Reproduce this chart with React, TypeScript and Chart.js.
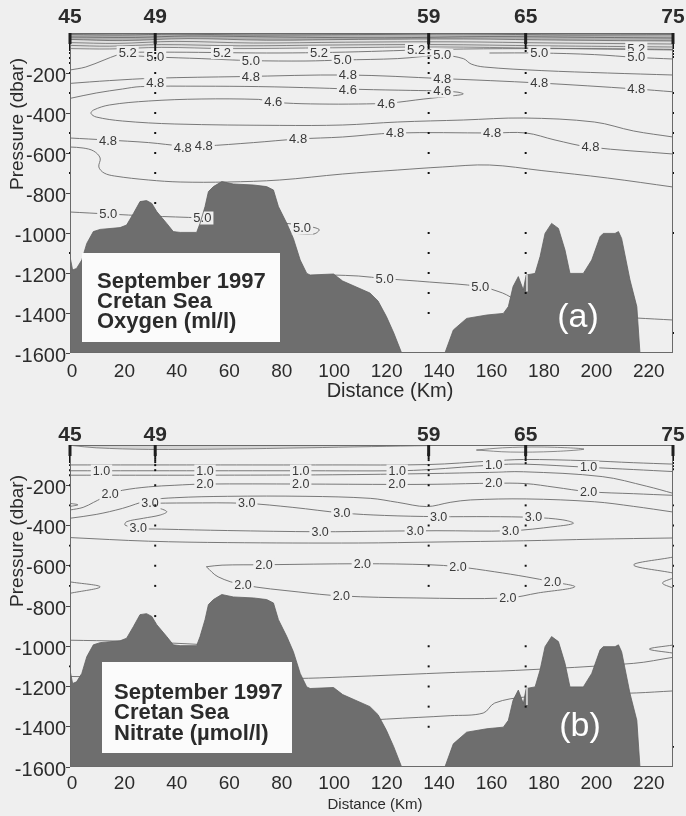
import React, { useEffect, useRef } from 'react';
import { Chart, registerables } from 'chart.js';

Chart.register(...registerables);

type P = [number, number];
type L = [number, number, string];

const FONT = '"Liberation Sans", Arial, Helvetica, sans-serif';
const BG = '#efefef';
const INK = '#2b2b2b';

// ---------- axes ----------
const xTicks = [0, 20, 40, 60, 80, 100, 120, 140, 160, 180, 200, 220];
const yTicks = [-1600, -1400, -1200, -1000, -800, -600, -400, -200];

// ---------- stations ----------
const stationNames = ['45', '49', '59', '65', '75'];
const stationKm = [0, 32.5, 136.8, 173.8, 230];
const st45 = [-45, -55, -65, -75, -85, -100, -125, -150, -200, -300, -500, -600, -700, -1100];
const st49 = [-45, -55, -65, -75, -85, -100, -125, -200, -300, -400, -500, -600, -700, -850];
const st59 = [-45, -55, -65, -75, -100, -125, -150, -200, -300, -400, -500, -600, -700, -1000, -1100, -1200, -1300, -1400];
const st65 = [-45, -55, -65, -75, -90, -200, -300, -400, -500, -600, -700, -1000, -1100, -1200, -1300];
const st75 = [-45, -55, -65, -75, -90, -105, -120, -300, -400, -500, -600, -700, -1000, -1500];
const stationDepths = [st45, st49, st59, st65, st75];
// pale gap in the topography at station 65 (km, top dbar, bottom dbar)
const notch: [number, number, number] = [174.3, -1208, -1292];

// ---------- bottom topography (km, dbar) ----------
const bathymetry: P[] = [
  [0, -1118], [1, -1185], [2.5, -1177], [4.5, -1135], [6.4, -1052], [8.9, -993], [11.5, -982],
  [19.1, -973], [21.6, -960], [24.2, -902], [26.7, -843], [29.2, -838], [31.2, -852], [33.1, -893],
  [36.9, -952], [39.4, -993], [42, -997], [48.3, -997], [49.6, -952], [51.5, -868], [52.8, -793],
  [54.7, -768], [57.9, -743], [62.3, -755], [70, -760], [75, -768], [77.6, -785], [79.5, -868],
  [82.7, -952], [85.2, -1027], [87.8, -1135], [90.3, -1202], [91.6, -1210], [100.5, -1205],
  [104, -1240], [114.4, -1300], [117.5, -1340], [120.7, -1418], [123.5, -1500], [126.5, -1600],
  [143, -1600], [146.2, -1485], [151.3, -1427], [159, -1410], [165.3, -1402], [167.2, -1368],
  [169, -1268], [171, -1218], [172.9, -1285], [174, -1210], [177.4, -1202], [179.3, -1118],
  [181.2, -1002], [183.7, -952], [186.3, -977], [188.8, -1085], [190.7, -1202], [195.8, -1202],
  [199, -1135], [202.2, -1018], [203.4, -1002], [207.9, -1002], [209.2, -993], [210.4, -1027],
  [213.6, -1235], [216.2, -1368], [217.4, -1600], [230, -1600],
];

// ---------- (a) oxygen contours (km, dbar) ----------
const oxySurf1: P[] = [[0, -8], [20, -10], [40, -6], [70, -10], [110, -8], [150, -5], [190, -10], [230, -8]];
const oxySurf2: P[] = [[0, -20], [25, -22], [45, -15], [80, -20], [120, -24], [160, -18], [200, -22], [230, -25]];
const oxySurf3: P[] = [[0, -32], [20, -38], [45, -28], [75, -36], [110, -32], [150, -30], [190, -36], [230, -40]];
const oxySurf4: P[] = [[0, -48], [18, -52], [40, -42], [70, -50], [105, -46], [145, -44], [185, -50], [230, -55]];
const oxySurf5: P[] = [[0, -62], [15, -66], [35, -58], [65, -64], [100, -60], [140, -58], [180, -64], [230, -70]];
const oxySurf6: P[] = [[0, -78], [15, -80], [35, -72], [60, -78], [100, -74], [140, -70], [180, -76], [230, -85]];
const oxy52: P[] = [[0, -185], [6, -170], [13, -135], [18, -110], [22, -98], [40, -96], [58, -98], [75, -100], [95, -98], [115, -92], [132, -85], [150, -80], [180, -78], [216, -80], [230, -82]];
const oxy50: P[] = [[26, -115], [32.5, -120], [50, -128], [69, -138], [90, -140], [104, -135], [125, -128], [142, -112], [150, -128], [153, -155], [158, -170], [180, -188], [205, -200], [230, -210]];
const oxy50Right: P[] = [[160, -100], [179, -100], [200, -108], [216, -122], [230, -130]];
const oxy48: P[] = [[0, -252], [15, -238], [32.5, -226], [65, -218], [106, -210], [142, -228], [179, -250], [216, -280], [230, -294]];
const oxyTongue: P[] = [[0, -327], [10, -300], [20, -280], [27, -268], [50, -266], [72, -268], [95, -275], [111, -282], [130, -287], [142, -290], [148, -296], [150, -305], [146, -314], [135, -330], [122, -350], [110, -355], [95, -355], [82, -350], [76, -340], [72, -332], [50, -330], [30, -340], [15, -360], [9, -385], [8, -402], [10, -420], [20, -440], [40, -455], [80, -462], [104, -460], [125, -445], [150, -435], [173, -425], [200, -445], [215, -490], [230, -520]];
const oxy48Low: P[] = [[0, -525], [14, -535], [30, -548], [43, -565], [51, -565], [70, -548], [87, -530], [104, -520], [124, -500], [161, -500], [174, -500], [185, -535], [198, -570], [230, -605]];
const oxyWave: P[] = [[0, -570], [5, -575], [9, -590], [11.5, -625], [11, -670], [13, -700], [17, -715], [30, -735], [42, -745], [60, -745], [80, -735], [104, -705], [125, -685], [142, -670], [160, -660], [180, -688], [205, -725], [230, -770]];
const oxyDeep1: P[] = [[0, -895], [14.6, -905], [30, -915], [50.5, -925], [70, -940], [81, -950], [88.5, -962], [95, -982], [93, -1005], [84, -1000]];
const oxyDeep2: P[] = [[100, -1210], [110, -1215], [120, -1228], [137, -1245], [156.5, -1268], [165, -1300], [168, -1320]];
const oxyDeep3: P[] = [[210, -1420], [216, -1425], [230, -1435]];

const oxyLabels: L[] = [
  [22, -98, '5.2'], [58, -98, '5.2'], [95, -98, '5.2'], [132, -85, '5.2'], [216, -78, '5.2'],
  [32.5, -120, '5.0'], [69, -138, '5.0'], [104, -135, '5.0'], [142, -112, '5.0'], [179, -100, '5.0'], [216, -122, '5.0'],
  [32.5, -250, '4.8'], [69, -218, '4.8'], [106, -212, '4.8'], [142, -230, '4.8'], [179, -250, '4.8'], [216, -280, '4.8'],
  [106, -284, '4.6'], [142, -290, '4.6'], [77.5, -345, '4.6'], [120.6, -355, '4.6'],
  [14.5, -538, '4.8'], [43, -577, '4.8'], [51, -565, '4.8'], [87, -530, '4.8'], [124, -500, '4.8'], [161, -500, '4.8'], [198.5, -570, '4.8'],
  [14.6, -905, '5.0'], [50.5, -925, '5.0'], [88.5, -975, '5.0'], [120, -1230, '5.0'], [156.5, -1268, '5.0'],
];

// ---------- (b) nitrate contours (km, dbar) ----------
const nitSurf1: P[] = [[1, -3], [10, -14], [30, -22], [60, -20], [90, -14], [115, -8], [137, -3]];
const nitSurfLoop: P[] = [[155, -25], [165, -14], [180, -10], [196, -20], [185, -32], [168, -35], [155, -25]];
const nitA: P[] = [[0, -99], [51, -99], [100, -99], [137, -97], [160, -80], [173, -72], [197, -78], [215, -88], [230, -95]];
const nit10: P[] = [[0, -128], [51, -128], [88, -128], [125, -128], [137, -122], [161.6, -99], [173, -95], [197.8, -111], [215, -122], [230, -132]];
const nitC: P[] = [[0, -150], [50, -150], [100, -148], [137, -142], [160, -136], [173, -133], [203, -157], [220, -205], [230, -240]];
const nit20: P[] = [[0, -323], [5, -310], [9, -285], [12, -265], [15.3, -243], [20, -225], [30, -208], [40, -200], [51.5, -194], [88, -194], [124.7, -196], [140, -195], [161.6, -190], [174, -192], [185, -210], [197.8, -232], [215, -242], [230, -250]];
const nitSquiggleTop: P[] = [[0, -290], [3, -297], [1, -303], [0, -305]];
const nit20b: P[] = [[0, -364], [10, -345], [20, -315], [30, -275], [40, -262], [60, -255], [90, -255], [114.5, -265], [125, -285], [136, -306], [145, -285], [152.7, -273], [174, -268], [200, -282], [215, -305], [230, -333]];
const nit30: P[] = [[28, -290], [45, -288], [67, -290], [85, -310], [104, -338], [120, -350], [140, -356], [160, -356], [177, -360], [188, -372], [192, -389], [185, -405], [168, -426], [140, -426], [120, -428], [95, -431], [60, -425], [35, -418], [26, -414], [21, -398], [21.6, -381], [28, -364], [34.4, -348], [36.9, -331], [33, -310], [28, -290]];
const nitE: P[] = [[0, -460], [30, -478], [60, -485], [110, -487], [140, -482], [173, -476], [200, -468], [230, -462]];
const nit20Loop: P[] = [[52, -605], [58, -597], [74, -595], [111.5, -590], [137, -595], [148, -605], [162, -630], [174, -655], [184, -680], [192.5, -705], [178.6, -735], [167, -760], [132, -760], [103.5, -750], [87, -730], [66, -695], [56.5, -655], [52, -605]];
const nitLeftSquiggle: P[] = [[0, -680], [11.5, -705], [0, -737]];
const nitRightSquiggle1: P[] = [[230, -557], [215, -596], [230, -636]];
const nitRightSquiggle2: P[] = [[230, -661], [226, -686], [230, -711]];
const nitRightSquiggle3: P[] = [[230, -994], [221, -1014], [230, -1034]];
const nitDeep1: P[] = [[0, -970], [20, -975], [45, -988], [60, -1000]];
const nitDeep2: P[] = [[0, -1150], [50, -1160], [86.6, -1160], [104, -1153], [147, -1130], [170, -1120], [215, -1085], [230, -1055]];
const nitDeep3: P[] = [[100, -1380], [120.6, -1362], [145, -1345], [157.6, -1332], [162, -1282], [174, -1252], [216, -1232], [230, -1222]];

const nitLabels: L[] = [
  [12, -128, '1.0'], [51.5, -128, '1.0'], [88, -128, '1.0'], [124.8, -128, '1.0'], [161.6, -99, '1.0'], [197.8, -111, '1.0'],
  [15.3, -243, '2.0'], [51.5, -194, '2.0'], [88, -194, '2.0'], [124.7, -196, '2.0'], [161.6, -190, '2.0'], [197.8, -232, '2.0'],
  [30.5, -290, '3.0'], [67.4, -290, '3.0'], [103.7, -338, '3.0'], [26, -414, '3.0'], [95.4, -431, '3.0'],
  [140.6, -356, '3.0'], [176.8, -360, '3.0'], [131.7, -426, '3.0'], [168, -426, '3.0'],
  [74, -595, '2.0'], [111.5, -590, '2.0'], [148, -605, '2.0'], [184, -680, '2.0'], [167, -760, '2.0'], [103.5, -750, '2.0'], [66, -695, '2.0'],
];

// ---------- panel texts ----------
const oxyBoxText = ['September 1997', 'Cretan Sea', 'Oxygen (ml/l)'];
const nitBoxText = ['September 1997', 'Cretan Sea', 'Nitrate (µmol/l)'];

type Spec = {
  bands: { pts: P[]; fill: string | null }[];
  contours: P[][];
  labels: L[];
  labelSize: number;
  padTop: number;
  xAxisHeight: number;
  xTickPad: number;
  nameGap: number;
  box: { x: number; y: number; w: number; h: number; tx: number; baselines: number[]; lines: string[] };
  tag: { text: string; x: number; y: number };
  yTitleY: number;
  xTitle: { x: number; y: number; size: number };
};

const toXY = (pts: P[]) => pts.map(([x, y]) => ({ x, y }));

function buildChart(canvas: HTMLCanvasElement, spec: Spec) {
  const datasets: any[] = [];
  spec.bands.forEach((b) =>
    datasets.push({
      data: toXY(b.pts), borderColor: 'rgba(70,70,70,0.6)', borderWidth: 1,
      fill: b.fill ? 'end' : false, backgroundColor: b.fill || 'transparent',
      pointRadius: 0, tension: 0.35, order: 4,
    })
  );
  spec.contours.forEach((c) =>
    datasets.push({
      data: toXY(c), borderColor: '#6b6b6b', borderWidth: 0.9, fill: false,
      pointRadius: 0, tension: 0.35, order: 3,
    })
  );
  datasets.push({
    isBathy: true, data: toXY(bathymetry), backgroundColor: '#6e6e6e', borderColor: '#606060',
    borderWidth: 0.8, fill: 'start', pointRadius: 0, tension: 0, order: 2,
  });
  const dots: { x: number; y: number }[] = [];
  stationKm.forEach((km, i) => stationDepths[i].forEach((d) => dots.push({ x: km, y: d })));
  datasets.push({
    data: dots, showLine: false, pointRadius: 1.4, pointStyle: 'rect',
    backgroundColor: '#111', borderColor: '#111', borderWidth: 0, order: 1, clip: false,
  });

  const drawLabels = (chart: any) => {
    const { ctx, chartArea: a, scales } = chart;
    ctx.save();
    ctx.beginPath();
    ctx.rect(a.left, a.top, a.right - a.left, a.bottom - a.top);
    ctx.clip();
    ctx.font = `${spec.labelSize}px ${FONT}`;
    ctx.textAlign = 'center';
    ctx.textBaseline = 'middle';
    spec.labels.forEach(([km, d, t]) => {
      const px = scales.x.getPixelForValue(km);
      const py = scales.y.getPixelForValue(d);
      const w = ctx.measureText(t).width;
      ctx.fillStyle = BG;
      ctx.fillRect(px - w / 2 - 2, py - spec.labelSize / 2, w + 4, spec.labelSize);
      ctx.fillStyle = '#3a3a3a';
      ctx.fillText(t, px, py + 0.5);
    });
    ctx.restore();
  };

  const deco = {
    id: 'deco',
    beforeDatasetDraw(chart: any, args: any) {
      const ds = chart.data.datasets[args.index];
      if (ds && ds.isBathy) drawLabels(chart);
    },
    afterDatasetDraw(chart: any, args: any) {
      const ds = chart.data.datasets[args.index];
      if (!ds || !ds.isBathy) return;
      const { ctx, scales } = chart;
      const px = scales.x.getPixelForValue(notch[0]);
      ctx.save();
      ctx.strokeStyle = '#e8e8e8';
      ctx.lineWidth = 1.5;
      ctx.beginPath();
      ctx.moveTo(px, scales.y.getPixelForValue(notch[1]));
      ctx.lineTo(px, scales.y.getPixelForValue(notch[2]));
      ctx.stroke();
      ctx.restore();
    },
    afterDraw(chart: any) {
      const { ctx, chartArea: a, scales } = chart;
      const xs = scales.x;
      ctx.save();
      ctx.strokeStyle = '#6a6a6a';
      ctx.lineWidth = 1;
      ctx.strokeRect(a.left + 0.5, a.top + 0.5, a.right - a.left - 1, a.bottom - a.top - 1);
      ctx.strokeStyle = '#1e1e1e';
      ctx.lineWidth = 3;
      stationKm.forEach((km) => {
        const px = xs.getPixelForValue(km);
        ctx.beginPath();
        ctx.moveTo(px, a.top);
        ctx.lineTo(px, a.top + 11);
        ctx.stroke();
      });
      ctx.fillStyle = INK;
      ctx.font = `bold 21px ${FONT}`;
      ctx.textAlign = 'center';
      ctx.textBaseline = 'middle';
      stationNames.forEach((n, i) => ctx.fillText(n, xs.getPixelForValue(stationKm[i]), a.top - spec.nameGap));

      const b = spec.box;
      ctx.fillStyle = '#fbfbfb';
      ctx.fillRect(b.x, b.y, b.w, b.h);
      ctx.fillStyle = INK;
      ctx.font = `bold 22px ${FONT}`;
      ctx.textAlign = 'left';
      ctx.textBaseline = 'alphabetic';
      b.lines.forEach((t, i) => ctx.fillText(t, b.tx, b.baselines[i]));

      ctx.fillStyle = '#ffffff';
      ctx.font = `34px ${FONT}`;
      ctx.textAlign = 'center';
      ctx.textBaseline = 'middle';
      ctx.fillText(spec.tag.text, spec.tag.x, spec.tag.y);

      ctx.fillStyle = INK;
      ctx.font = `19px ${FONT}`;
      ctx.save();
      ctx.translate(18, spec.yTitleY);
      ctx.rotate(-Math.PI / 2);
      ctx.fillText('Pressure (dbar)', 0, 0);
      ctx.restore();
      ctx.font = `${spec.xTitle.size}px ${FONT}`;
      ctx.fillText('Distance (Km)', spec.xTitle.x, spec.xTitle.y);
      ctx.restore();
    },
  };

  return new Chart(canvas, {
    type: 'line',
    data: { datasets },
    plugins: [deco],
    options: {
      animation: false,
      responsive: false,
      events: [],
      layout: { padding: { top: spec.padTop, right: 13, left: 0, bottom: 0 } },
      plugins: { legend: { display: false }, tooltip: { enabled: false }, title: { display: false } },
      scales: {
        x: {
          type: 'linear', min: 0, max: 230,
          afterBuildTicks: (s: any) => { s.ticks = xTicks.map((v) => ({ value: v })); },
          afterFit: (s: any) => { s.height = spec.xAxisHeight; },
          grid: { display: false, drawTicks: false },
          border: { display: false },
          ticks: {
            font: { family: FONT, size: 19 }, color: INK, padding: spec.xTickPad,
            maxRotation: 0, autoSkip: false, labelOffset: 2,
            callback: (v: any) => String(v),
          },
        },
        y: {
          type: 'linear', min: -1600, max: 0,
          afterBuildTicks: (s: any) => { s.ticks = yTicks.map((v) => ({ value: v })); },
          afterFit: (s: any) => { s.width = 70; },
          grid: { drawOnChartArea: false, drawTicks: true, tickLength: 4, color: '#444', lineWidth: 1 },
          border: { display: false },
          ticks: {
            font: { family: FONT, size: 20 }, color: INK, padding: 0, autoSkip: false, labelOffset: 3,
            callback: (v: any) => String(v),
          },
        },
      },
    } as any,
  });
}

const oxySpec: Spec = {
  bands: [
    { pts: oxySurf1, fill: null },
    { pts: oxySurf2, fill: null },
    { pts: oxySurf3, fill: 'rgba(90,90,90,0.35)' },
    { pts: oxySurf4, fill: null },
    { pts: oxySurf5, fill: null },
    { pts: oxySurf6, fill: 'rgba(140,140,140,0.15)' },
  ],
  contours: [oxy52, oxy50, oxy50Right, oxy48, oxyTongue, oxy48Low, oxyWave, oxyDeep1, oxyDeep2, oxyDeep3],
  labels: oxyLabels,
  labelSize: 13,
  padTop: 33,
  xAxisHeight: 55,
  xTickPad: 7,
  nameGap: 16,
  box: { x: 82, y: 253, w: 198, h: 89, tx: 97, baselines: [288, 308, 328], lines: oxyBoxText },
  tag: { text: '(a)', x: 578, y: 318 },
  yTitleY: 124,
  xTitle: { x: 390, y: 391, size: 20 },
};

const nitSpec: Spec = {
  bands: [
    { pts: nitSurf1, fill: 'rgba(120,120,120,0.22)' },
    { pts: nitSurfLoop, fill: null },
  ],
  contours: [nitA, nit10, nitC, nit20, nitSquiggleTop, nit20b, nit30, nitE, nit20Loop, nitLeftSquiggle,
    nitRightSquiggle1, nitRightSquiggle2, nitRightSquiggle3, nitDeep1, nitDeep2, nitDeep3],
  labels: nitLabels,
  labelSize: 12.5,
  padTop: 37,
  xAxisHeight: 49,
  xTickPad: 5,
  nameGap: 10,
  box: { x: 102, y: 254, w: 190, h: 91, tx: 114, baselines: [291, 311, 332], lines: nitBoxText },
  tag: { text: '(b)', x: 580, y: 319 },
  yTitleY: 133,
  xTitle: { x: 375, y: 397, size: 15 },
};

function Panel({ spec }: { spec: Spec }) {
  const ref = useRef<HTMLCanvasElement | null>(null);
  useEffect(() => {
    if (!ref.current) return;
    const chart = buildChart(ref.current, spec);
    return () => chart.destroy();
  }, [spec]);
  return <canvas ref={ref} width={686} height={408} style={{ display: 'block', width: 686, height: 408 }} />;
}

export default function App() {
  return (
    <div style={{ position: 'absolute', left: 0, top: 0, width: 686, height: 816, background: BG, overflow: 'hidden' }}>
      <Panel spec={oxySpec} />
      <Panel spec={nitSpec} />
    </div>
  );
}
